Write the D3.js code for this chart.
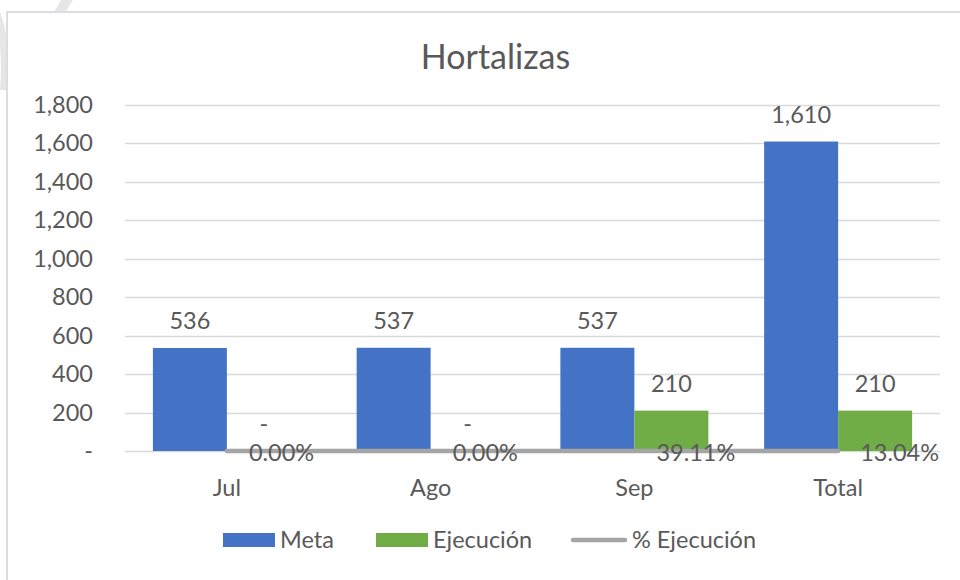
<!DOCTYPE html>
<html>
<head>
<meta charset="utf-8">
<script src="https://cdn.jsdelivr.net/npm/d3@7"></script>
<style>
  html, body { margin: 0; padding: 0; background: #ffffff; }
  svg { display: block; }
  text { font-family: Lato, "Open Sans", sans-serif; fill: #595959; }
</style>
</head>
<body>
<svg id="chart" width="960" height="580"></svg>
<script>
// ---- data ----
const categories = ["Jul", "Ago", "Sep", "Total"];
const metaValues = [536, 537, 537, 1610];
const ejecucionValues = [0, 0, 210, 210];
const pctEjecucion = [0.0, 0.0, 0.3911, 0.1304];
const yTicks = [0, 200, 400, 600, 800, 1000, 1200, 1400, 1600, 1800];
const seriesNames = ["Meta", "Ejecución", "% Ejecución"];
const title = "Hortalizas";

const colors = { "Meta": "#4472C4", "Ejecución": "#70AD47", "% Ejecución": "#A5A5A5" };
const FS = "23.5px";

const svg = d3.select("#chart");

// faint watermark strokes at top-left
svg.append("path").attr("d", "M70,-5 Q55,20 40,45").attr("fill", "none")
  .attr("stroke", "#E6E6E6").attr("stroke-width", 10);
svg.append("path").attr("d", "M-5,10 Q8,40 4,90").attr("fill", "none")
  .attr("stroke", "#E6E6E6").attr("stroke-width", 8);

// chart border
svg.append("rect").attr("x", 7).attr("y", 12).attr("width", 980).attr("height", 620)
  .attr("fill", "#ffffff").attr("stroke", "#DADDE2").attr("stroke-width", 2);

const plot = { left: 125, right: 940, top: 105, bottom: 451 };

const y = d3.scaleLinear().domain([0, 1800]).range([plot.bottom, plot.top]);
const x0 = d3.scaleBand().domain(categories).range([plot.left, plot.right]).paddingInner(0).paddingOuter(0);
const x1 = d3.scaleBand().domain(["Meta", "Ejecución"]).range([0, x0.bandwidth()]).paddingInner(0).paddingOuter(0.377);

// title
svg.append("text").attr("x", (plot.left + plot.right) / 2 - 37).attr("y", 57).attr("dy", "0.35em")
  .attr("text-anchor", "middle").style("font-size", "34px").text(title);

// gridlines
svg.append("g").selectAll("line").data(yTicks).join("line")
  .attr("x1", plot.left).attr("x2", plot.right)
  .attr("y1", d => Math.round(y(d)) + 0.5).attr("y2", d => Math.round(y(d)) + 0.5)
  .attr("stroke", "#D9D9D9").attr("stroke-width", 1.3);

// y axis labels
const fmt = d => d === 0 ? "-" : d3.format(",")(d);
const yAxis = d3.axisLeft(y).tickValues(yTicks).tickFormat(fmt).tickSize(0).tickPadding(0);
const gy = svg.append("g").attr("transform", `translate(93,0)`).call(yAxis);
gy.select(".domain").remove();
gy.selectAll("text").style("font-size", FS).style("font-family", "Lato, sans-serif").attr("fill", "#595959");

// x axis labels
const xAxis = d3.axisBottom(x0).tickSize(0).tickPadding(0);
const gx = svg.append("g").attr("transform", `translate(0,479)`).call(xAxis);
gx.select(".domain").remove();
gx.selectAll("text").style("font-size", FS).style("font-family", "Lato, sans-serif").attr("fill", "#595959");

// bars
const barData = [];
categories.forEach((c, i) => {
  barData.push({ cat: c, s: "Meta", v: metaValues[i] });
  barData.push({ cat: c, s: "Ejecución", v: ejecucionValues[i] });
});
svg.append("g").selectAll("rect").data(barData).join("rect")
  .attr("x", d => x0(d.cat) + x1(d.s))
  .attr("y", d => y(d.v))
  .attr("width", x1.bandwidth())
  .attr("height", d => y(0) - y(d.v))
  .attr("fill", d => colors[d.s]);

// bar labels
svg.append("g").selectAll("text").data(barData).join("text")
  .attr("x", d => x0(d.cat) + x1(d.s) + x1.bandwidth() / 2)
  .attr("y", d => y(d.v) - 27)
  .attr("dy", "0.35em")
  .attr("text-anchor", "middle")
  .style("font-size", FS)
  .text(d => fmt(d.v));

// line
const lineData = categories.map((c, i) => ({ cat: c, v: pctEjecucion[i] }));
const line = d3.line().x(d => x0(d.cat) + x0.bandwidth() / 2).y(d => y(d.v));
svg.append("path").datum(lineData).attr("d", line)
  .attr("fill", "none").attr("stroke", colors["% Ejecución"]).attr("stroke-width", 4.5)
  .attr("stroke-linecap", "round");

// line labels
svg.append("g").selectAll("text").data(lineData).join("text")
  .attr("x", d => x0(d.cat) + x0.bandwidth() / 2 + 22)
  .attr("y", d => y(d.v) + 2)
  .attr("dy", "0.35em")
  .attr("text-anchor", "start")
  .style("font-size", FS)
  .text(d => d3.format(".2%")(d.v));

// legend
const legendY = 540;
const legendItems = [
  { name: "Meta", x: 223, type: "rect", w: 52 },
  { name: "Ejecución", x: 376, type: "rect", w: 52 },
  { name: "% Ejecución", x: 571, type: "line", w: 56 }
];
const lg = svg.append("g");
legendItems.forEach(it => {
  if (it.type === "rect") {
    lg.append("rect").attr("x", it.x).attr("y", legendY - 7).attr("width", it.w).attr("height", 14)
      .attr("fill", colors[it.name]);
  } else {
    lg.append("line").attr("x1", it.x + 2).attr("x2", it.x + it.w - 2)
      .attr("y1", legendY).attr("y2", legendY)
      .attr("stroke", colors[it.name]).attr("stroke-width", 4.5).attr("stroke-linecap", "round");
  }
  lg.append("text").attr("x", it.x + it.w + 5).attr("y", legendY).attr("dy", "0.35em")
    .style("font-size", FS).text(it.name);
});
</script>
</body>
</html>
